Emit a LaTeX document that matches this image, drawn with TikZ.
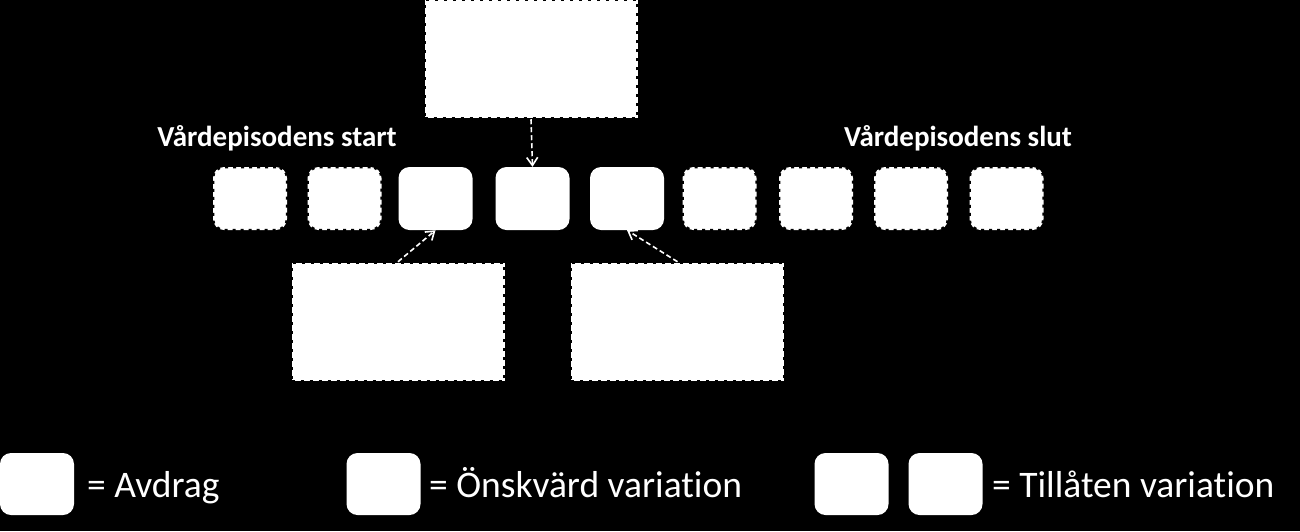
\documentclass[tikz,border=0pt]{standalone}
\usepackage{fontspec}
\setmainfont[Ligatures=NoCommon]{Carlito}
\usetikzlibrary{arrows.meta}
\begin{document}
\begin{tikzpicture}[x=1pt,y=-1pt,
  solidbox/.style={fill=white,draw=none,rounded corners=11pt,minimum width=74pt,minimum height=63pt,inner sep=0pt},
  dashbox/.style={solidbox,draw=black,line width=2.5pt,dash pattern=on 3pt off 5pt},
  bigbox/.style={fill=white,draw=black,line width=2.5pt,dash pattern=on 3pt off 6pt,minimum width=213pt,minimum height=118pt,inner sep=0pt},
  conn/.style={draw=white,line width=1.6pt,dash pattern=on 5pt off 3pt,-{Straight Barb[length=8pt,width=11pt,line width=1.6pt]}},
  lbl/.style={text=white,font=\fontsize{29}{33}\selectfont\bfseries,inner sep=0pt,anchor=base},
  leg/.style={text=white,font=\fontsize{37.5}{41}\selectfont,inner sep=0pt,anchor=base west}]
\fill[black] (0,0) rectangle (1300,531);
\useasboundingbox (0,0) rectangle (1300,531);

\node[bigbox] (top) at (531,59) {};
\node[bigbox] (bl) at (398,322) {};
\node[bigbox] (br) at (677.5,322) {};

\node[dashbox] (b1) at (250,198.5) {};
\node[dashbox] (b2) at (344.5,198.5) {};
\node[solidbox] (b3) at (435.5,198.5) {};
\node[solidbox] (b4) at (532.5,198.5) {};
\node[solidbox] (b5) at (627,198.5) {};
\node[dashbox] (b6) at (719.5,198.5) {};
\node[dashbox] (b7) at (816,198.5) {};
\node[dashbox] (b8) at (911,198.5) {};
\node[dashbox] (b9) at (1006.5,198.5) {};

\node[lbl] (start) at (277,146) {Vårdepisodens start};
\node[lbl] (slut) at (958,146) {Vårdepisodens slut};

\draw[conn] (top.south) -- (b4.north);
\draw[conn] (bl.north) -- (b3.south);
\draw[conn] (br.north) -- (b5.south);

\node[solidbox,minimum height=62pt] (l1) at (37,484) {};
\node[leg] (t1) at (87,497) {= Avdrag};
\node[solidbox,minimum height=62pt] (l2) at (383.5,484) {};
\node[leg] (t2) at (429,497) {= Önskvärd variation};
\node[solidbox,minimum height=62pt] (l3) at (851.5,484) {};
\node[solidbox,minimum height=62pt] (l4) at (945.5,484) {};
\node[leg] (t3) at (992,497) {= Tillåten variation};
\end{tikzpicture}
\end{document}
